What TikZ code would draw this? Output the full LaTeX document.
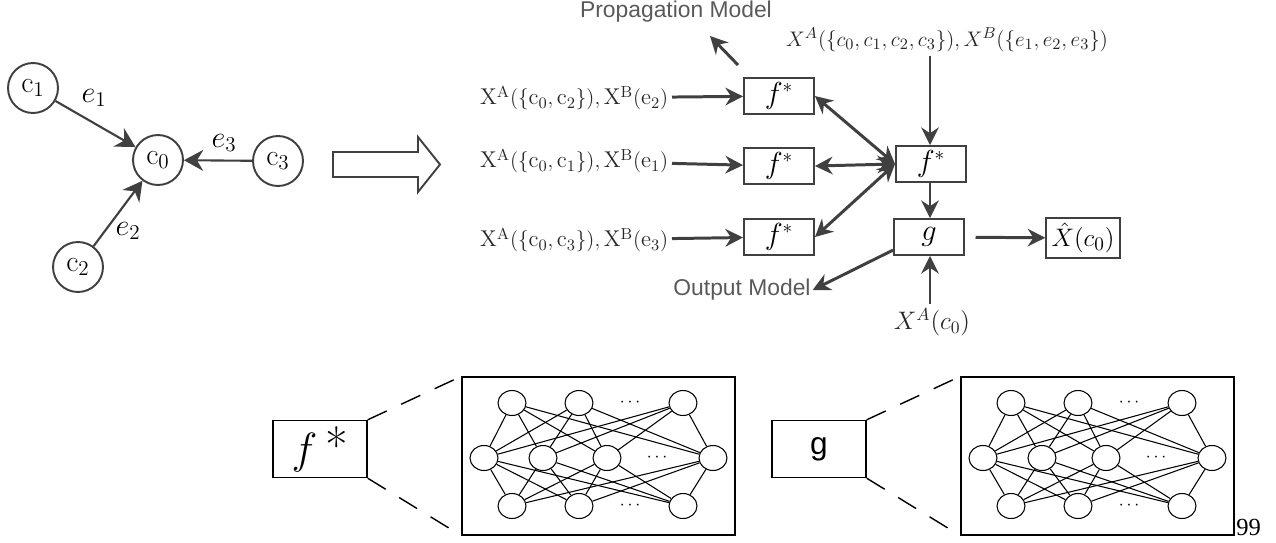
\documentclass[tikz,border=0pt]{standalone}
\usepackage{fontspec}
\newfontfamily\labelfont{Liberation Sans}
\newfontfamily\pagefont{Liberation Serif}
\usetikzlibrary{arrows.meta, shapes.geometric}
\definecolor{linegray}{RGB}{64,64,64}
\definecolor{textgray}{RGB}{89,89,89}

\begin{document}
\begin{tikzpicture}[x=0.02cm, y=-0.02cm,
    cnode/.style={circle, draw=linegray, line width=1.1pt, minimum size=1cm, inner sep=0pt, font=\fontsize{17}{19}\selectfont},
    fbox/.style={rectangle, draw=linegray, line width=1.1pt, minimum width=1.4cm, minimum height=0.72cm, inner sep=1pt, font=\fontsize{16}{18}\selectfont},
    bigbox/.style={rectangle, draw, line width=0.8pt, minimum width=1.88cm, minimum height=1.14cm, inner sep=0pt},
    netbox/.style={rectangle, draw, line width=0.8pt, minimum width=5.46cm, minimum height=3.16cm},
    inlabel/.style={font=\fontsize{13}{15}\selectfont, text=black!85, inner sep=2pt},
    model/.style={font=\labelfont\fontsize{13}{15}\selectfont, text=textgray, inner sep=1pt},
    arrow/.style={-{Stealth[length=10pt, width=10pt]}, line width=1.7pt, draw=linegray},
    darrow/.style={{Stealth[length=10pt, width=10pt]}-{Stealth[length=10pt, width=10pt]}, line width=1.7pt, draw=linegray},
    edge/.style={-{Stealth[length=11pt, width=12pt]}, line width=1.2pt, draw=linegray},
    neuron/.style={ellipse, draw, fill=white, minimum width=0.56cm, minimum height=0.5cm, inner sep=0pt, line width=0.6pt},
    wire/.style={line width=0.6pt}
]
    \useasboundingbox (0,0) rectangle (1276,542);

    % graph around c0
    \node[cnode] (c1) at (33,88) {$\mathrm{c}_1$};
    \node[cnode] (c0) at (158,160) {$\mathrm{c}_0$};
    \node[cnode] (c3) at (278,161) {$\mathrm{c}_3$};
    \node[cnode] (c2) at (78,267) {$\mathrm{c}_2$};
    \draw[edge] (c1) -- (c0);
    \draw[edge] (c3) -- (c0);
    \draw[edge] (c2) -- (c0);
    \node[font=\fontsize{17}{19}\selectfont] (e1) at (94,98) {$e_1$};
    \node[font=\fontsize{17}{19}\selectfont] (e3) at (224,143) {$e_3$};
    \node[font=\fontsize{17}{19}\selectfont] (e2) at (128,231) {$e_2$};

    % hollow arrow
    \draw[linegray, line width=1.1pt] (333,152) -- (418,152) -- (418,137) -- (440,164.5)
        -- (418,192) -- (418,177) -- (333,177) -- cycle;

    % propagation and output models
    \node[fbox] (f1) at (779,96) {$f^*$};
    \node[fbox] (f2) at (779,166) {$f^*$};
    \node[fbox] (f3) at (779,237) {$f^*$};
    \node[fbox] (fm) at (931,164) {$f^*$};
    \node[fbox] (g) at (929,237) {$g$};
    \node[draw=linegray, line width=1.1pt, inner sep=3pt, font=\fontsize{15}{17}\selectfont] (out) at (1083,238) {$\hat{X}(c_0)$};

    \node[inlabel, anchor=east] (in2) at (672,98) {$\mathrm{X^A(\{c_0,c_2\}),X^B(e_2)}$};
    \node[inlabel, anchor=east] (in1) at (672,161) {$\mathrm{X^A(\{c_0,c_1\}),X^B(e_1)}$};
    \node[inlabel, anchor=east] (in3) at (672,240) {$\mathrm{X^A(\{c_0,c_3\}),X^B(e_3)}$};
    \node[inlabel] (all) at (947,40) {$X^A(\{c_0,c_1,c_2,c_3\}),X^B(\{e_1,e_2,e_3\})$};
    \node[inlabel, font=\fontsize{14}{16}\selectfont] (xa) at (932,322) {$X^A(c_0)$};
    \node[model] (pm) at (676,12) {Propagation Model};
    \node[model] (om) at (742,290) {Output Model};
    \coordinate (pstart) at (738,65);
    \coordinate (ptip) at (710,36);

    \draw[arrow] (in2) -- (f1);
    \draw[arrow] (in1) -- (f2);
    \draw[arrow] (in3) -- (f3);
    \draw[darrow] (f1.east) -- (fm.west);
    \draw[darrow] (f2.east) -- (fm.west);
    \draw[darrow] (f3.east) -- (fm.west);
    \draw[arrow] (all.south -| 930,0) -- (fm.north -| 930,0);
    \draw[arrow] (fm.south -| 930,0) -- (g.north -| 930,0);
    \draw[arrow] (xa.north -| 930,0) -- (g.south -| 930,0);
    \draw[arrow, shorten <=6pt] (g) -- (out);
    \draw[arrow] (g.200) -- (om.east);
    \draw[arrow] (pstart) -- (ptip);

    % network details
    \node[bigbox, font=\fontsize{28}{30}\selectfont] (fs) at (320,449) {$f$\,*};
    \node[bigbox, font=\labelfont\fontsize{18}{20}\selectfont] (gs) at (819,449) {g};
    \node[netbox] (net1) at (598.5,456) {};
    \node[netbox] (net2) at (1097.5,456) {};
    \draw[dash pattern=on 12pt off 9pt, line width=0.8pt] (fs.north east) -- (net1.north west);
    \draw[dash pattern=on 12pt off 9pt, line width=0.8pt] (fs.south east) -- (net1.south west);
    \draw[dash pattern=on 12pt off 9pt, line width=0.8pt] (gs.north east) -- (net2.north west);
    \draw[dash pattern=on 12pt off 9pt, line width=0.8pt] (gs.south east) -- (net2.south west);

    \foreach \k/\dx in {a/0, b/499} {
        \foreach \i/\x in {1/512, 2/579, 3/683} {
            \node[neuron] (\k-t\i) at (\x+\dx,403) {};
            \node[neuron] (\k-b\i) at (\x+\dx,506) {};
        }
        \foreach \j/\x in {1/484, 2/543, 3/607, 4/713}
            \node[neuron] (\k-m\j) at (\x+\dx,458) {};
        \node (\k-dt) at (630+\dx,403) {$\cdots$};
        \node (\k-dm) at (657+\dx,458) {$\cdots$};
        \node (\k-db) at (630+\dx,506) {$\cdots$};
        \foreach \i in {1,2,3}
            \foreach \j in {1,...,4} {
                \draw[wire] (\k-t\i) -- (\k-m\j);
                \draw[wire] (\k-m\j) -- (\k-b\i);
            }
    }

    \node[anchor=west, font=\pagefont\fontsize{14}{16}\selectfont, inner sep=0pt] (page) at (1236,527) {99};
\end{tikzpicture}
\end{document}
